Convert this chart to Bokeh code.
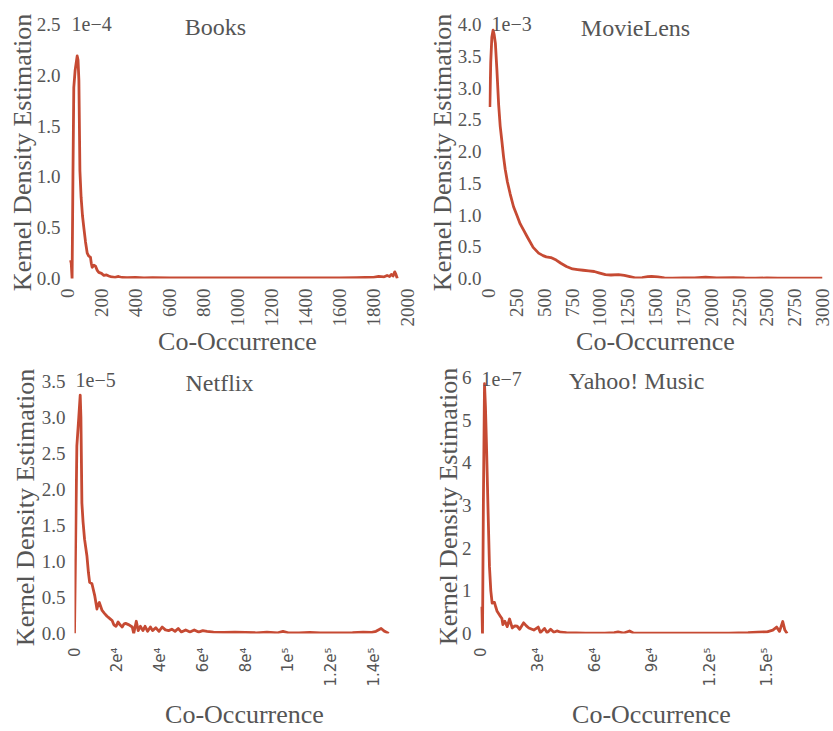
import math
from bokeh.plotting import figure
from bokeh.models import Range1d, FixedTicker, PrintfTickFormatter, Label, AllLabels
from bokeh.layouts import column, row
from bokeh.embed import file_html
from bokeh.resources import INLINE

# ---------------- data ----------------
# Books: co-occurrence count vs density (units of 1e-4)
books_x = [18, 22, 27, 32, 37, 45, 57, 62, 67, 73, 80, 88, 96, 106, 116, 125, 135, 140,
           145, 155, 165, 175, 184, 200, 214, 230, 243, 260, 280, 300, 320, 350, 400, 450,
           500, 600, 700, 800, 900, 1000, 1100, 1200, 1300, 1400, 1500, 1600, 1700, 1750,
           1800, 1830, 1860, 1880, 1895, 1905, 1915, 1925, 1932, 1940]
books_y = [0.18, 0.15, 0.0, 1.0, 1.88, 2.05, 2.19, 2.15, 1.95, 1.06, 0.80, 0.62, 0.50, 0.36,
           0.25, 0.22, 0.21, 0.15, 0.11, 0.13, 0.12, 0.08, 0.06, 0.05, 0.03, 0.035, 0.025,
           0.015, 0.012, 0.02, 0.01, 0.008, 0.01, 0.006, 0.008, 0.005, 0.006, 0.005, 0.005,
           0.005, 0.005, 0.005, 0.005, 0.005, 0.006, 0.006, 0.008, 0.01, 0.012, 0.02, 0.015,
           0.03, 0.02, 0.04, 0.025, 0.065, 0.04, 0.0]

# MovieLens: density in units of 1e-3
movie_x = [12, 20, 30, 41, 50, 62, 75, 91, 105, 121, 135, 150, 170, 195, 225, 254, 285, 313,
           350, 401, 450, 490, 519, 560, 608, 650, 700, 755, 800, 850, 900, 950, 991, 1050,
           1100, 1168, 1220, 1270, 1316, 1380, 1430, 1464, 1520, 1580, 1650, 1750, 1850,
           1950, 2050, 2200, 2300, 2400, 2500, 2600, 2700, 2800, 2900, 3000]
movie_y = [2.70, 3.40, 3.80, 3.91, 3.85, 3.70, 3.30, 2.74, 2.40, 2.15, 1.92, 1.72, 1.52, 1.33,
           1.13, 1.0, 0.86, 0.77, 0.65, 0.49, 0.40, 0.36, 0.34, 0.33, 0.29, 0.24, 0.19, 0.15,
           0.14, 0.13, 0.12, 0.11, 0.09, 0.06, 0.055, 0.06, 0.05, 0.03, 0.01, 0.015, 0.03,
           0.035, 0.025, 0.008, 0.006, 0.008, 0.01, 0.02, 0.01, 0.015, 0.008, 0.006, 0.008,
           0.006, 0.007, 0.006, 0.006, 0.006]

# Netflix: density in units of 1e-5
netflix_x = [0, 1100, 2000, 2670, 3000, 3460, 4000, 4700, 5800, 6500, 7080, 8160, 9430,
             10500, 11000, 11600, 12900, 14000, 15200, 16000, 16800, 17600, 18400, 19400,
             20400, 21300, 22300, 23100, 23900, 25500, 27000, 27700, 28900, 29800, 30800,
             32000, 33000, 34200, 35500, 36500, 38000, 39500, 41000, 42500, 44000, 45500,
             47000, 48500, 50000, 52000, 54000, 56000, 58000, 60000, 62000, 65000, 70000,
             75000, 80000, 85000, 90000, 95000, 97500, 100000, 105000, 110000, 115000,
             120000, 125000, 130000, 135000, 139000, 141000, 143400, 145000, 147000]
netflix_y = [0.0, 2.60, 3.0, 3.31, 3.0, 1.81, 1.55, 1.31, 1.08, 0.85, 0.71, 0.69, 0.53, 0.34,
             0.40, 0.43, 0.32, 0.28, 0.24, 0.22, 0.20, 0.18, 0.12, 0.10, 0.16, 0.12, 0.09,
             0.13, 0.14, 0.12, 0.09, 0.0, 0.17, 0.04, 0.10, 0.04, 0.10, 0.03, 0.09, 0.04,
             0.08, 0.03, 0.09, 0.05, 0.04, 0.06, 0.03, 0.07, 0.02, 0.05, 0.02, 0.05, 0.02,
             0.04, 0.03, 0.02, 0.015, 0.02, 0.015, 0.01, 0.02, 0.01, 0.03, 0.01, 0.01, 0.015,
             0.01, 0.01, 0.01, 0.012, 0.02, 0.015, 0.03, 0.07, 0.03, 0.0]

# Yahoo! Music: density in units of 1e-7
yahoo_x = [520, 1050, 1500, 2100, 2600, 3130, 4000, 4700, 5400, 6100, 7300, 8000, 8700,
           10450, 11200, 11700, 12700, 14000, 15200, 16600, 18000, 19200, 20500, 22600,
           24000, 25300, 27900, 30200, 31400, 33500, 34900, 36700, 38400, 40000, 42000,
           45000, 50000, 55000, 60000, 65000, 70000, 72000, 75000, 78000, 80000, 85000,
           90000, 100000, 110000, 120000, 130000, 140000, 145000, 150000, 153000, 155000,
           156500, 158200, 159300, 160500]
yahoo_y = [0.63, 0.0, 3.0, 5.85, 5.3, 4.42, 2.8, 1.56, 1.0, 0.71, 0.73, 0.62, 0.52, 0.40,
           0.35, 0.21, 0.29, 0.16, 0.34, 0.13, 0.18, 0.17, 0.10, 0.25, 0.18, 0.13, 0.08,
           0.15, 0.02, 0.12, 0.02, 0.10, 0.03, 0.06, 0.03, 0.02, 0.015, 0.01, 0.01, 0.01,
           0.02, 0.04, 0.01, 0.06, 0.01, 0.01, 0.01, 0.01, 0.01, 0.01, 0.01, 0.02, 0.03,
           0.04, 0.08, 0.15, 0.05, 0.28, 0.08, 0.0]

titles = ["Books", "MovieLens", "Netflix", "Yahoo! Music"]
exponents = ["1e\u22124", "1e\u22123", "1e\u22125", "1e\u22127"]
ylabel_text = "Kernel Density Estimation"
xlabel_text = "Co-Occurrence"

books_xticks = [0, 200, 400, 600, 800, 1000, 1200, 1400, 1600, 1800, 2000]
movie_xticks = [0, 250, 500, 750, 1000, 1250, 1500, 1750, 2000, 2250, 2500, 2750, 3000]
netflix_xticks = [0, 20000, 40000, 60000, 80000, 100000, 120000, 140000]
netflix_xlabels = ["0", "2e\u2074", "4e\u2074", "6e\u2074", "8e\u2074", "1e\u2075",
                   "1.2e\u2075", "1.4e\u2075"]
yahoo_xticks = [0, 30000, 60000, 90000, 120000, 150000]
yahoo_xlabels = ["0", "3e\u2074", "6e\u2074", "9e\u2074", "1.2e\u2075", "1.5e\u2075"]

books_yticks = [0, 0.5, 1.0, 1.5, 2.0, 2.5]
movie_yticks = [0, 0.5, 1.0, 1.5, 2.0, 2.5, 3.0, 3.5, 4.0]
netflix_yticks = [0, 0.5, 1.0, 1.5, 2.0, 2.5, 3.0, 3.5]
yahoo_yticks = [0, 1, 2, 3, 4, 5, 6]

LINE = "#c64a33"
TXT = "#555555"
SERIF = "Liberation Serif"


def make(xs, ys, xmax, xticks, yticks, yfmt, W, H, bl, br, bt, bb, tick_top_px,
         title, title_dx, title_dy, expo, expo_dx, expo_dy, ylab_x, ylab_y,
         xlabels=None, x_standoff=4, y_standoff=4, xlab_standoff=5):
    # the frame reaches a little above the top tick so that title / exponent fit inside it
    ytop = yticks[-1]
    frame_h = H - bt - bb
    yend = ytop * frame_h / (frame_h - tick_top_px)
    p = figure(width=W, height=H, x_range=Range1d(0, xmax), y_range=Range1d(0, yend),
               output_backend="svg", toolbar_location=None, title=None,
               min_border_left=bl, min_border_right=br, min_border_top=bt,
               min_border_bottom=bb)
    p.outline_line_color = None
    p.xgrid.visible = False
    p.ygrid.visible = False
    p.background_fill_color = "white"
    p.border_fill_color = "white"

    p.line(xs, ys, line_color=LINE, line_width=2.8, line_join="round")

    xa = p.xaxis[0]
    xa.ticker = FixedTicker(ticks=xticks)
    xa.major_label_orientation = math.pi / 2
    xa.major_label_policy = AllLabels()
    xa.axis_line_color = None
    xa.major_tick_line_color = None
    xa.minor_tick_line_color = None
    xa.major_label_standoff = x_standoff
    xa.major_label_text_color = TXT
    if xlabels is not None:
        xa.major_label_overrides = {t: l for t, l in zip(xticks, xlabels)}
        xa.major_label_text_font = "DejaVu Sans"
        xa.major_label_text_font_size = "15px"
    else:
        xa.major_label_text_font = SERIF
        xa.major_label_text_font_size = "19px"
    xa.axis_label = xlabel_text
    xa.axis_label_text_font = SERIF
    xa.axis_label_text_font_style = "normal"
    xa.axis_label_text_font_size = "26px"
    xa.axis_label_text_color = TXT
    xa.axis_label_standoff = xlab_standoff

    ya = p.yaxis[0]
    ya.ticker = FixedTicker(ticks=yticks)
    ya.formatter = PrintfTickFormatter(format=yfmt)
    ya.major_label_policy = AllLabels()
    ya.axis_line_color = None
    ya.major_tick_line_color = None
    ya.minor_tick_line_color = None
    ya.major_label_standoff = y_standoff
    ya.major_label_text_font = SERIF
    ya.major_label_text_font_size = "19px"
    ya.major_label_text_color = TXT

    # y-axis title as a rotated label in the left panel
    p.add_layout(Label(x=ylab_x, y=ylab_y, x_units="screen", y_units="screen",
                       angle=math.pi / 2, text=ylabel_text, text_align="center",
                       text_baseline="middle", text_font=SERIF,
                       text_font_size="26px", text_color=TXT), "left")

    p.add_layout(Label(x=0, y=ytop, x_offset=title_dx, y_offset=title_dy, text=title,
                       text_align="center", text_baseline="alphabetic",
                       text_font=SERIF, text_font_size="24px", text_color=TXT))
    p.add_layout(Label(x=0, y=ytop, x_offset=expo_dx, y_offset=expo_dy, text=expo,
                       text_align="left", text_baseline="alphabetic",
                       text_font=SERIF, text_font_size="20px", text_color=TXT))
    return p


p1 = make(books_x, books_y, 2000, books_xticks, books_yticks, "%.1f",
          420, 360, 67, 13, 5, 82, 19, titles[0], 148, -2, exponents[0], 4, 1, 18, 126,
          y_standoff=1, xlab_standoff=-3)
p2 = make(movie_x, movie_y, 3000, movie_xticks, movie_yticks, "%.1f",
          413, 360, 68, 11, 5, 82, 19, titles[1], 147, -3, exponents[1], 3, 1, 17, 126,
          y_standoff=1, xlab_standoff=-3)
p3 = make(netflix_x, netflix_y, 159000, netflix_xticks, netflix_yticks, "%.1f",
          420, 371, 74, 6, 5, 96, 16, titles[2], 145, -2, exponents[2], 1, 1, 16, 126,
          xlabels=netflix_xlabels, x_standoff=8, y_standoff=3, xlab_standoff=10)
p4 = make(yahoo_x, yahoo_y, 179000, yahoo_xticks, yahoo_yticks, "%d",
          413, 371, 60, 11, 3, 97, 12, titles[3], 156, -4, exponents[3], 1, -2, 19, 127,
          xlabels=yahoo_xlabels, x_standoff=8, y_standoff=3, xlab_standoff=10)

layout = column(row(p1, p2), row(p3, p4))
open("out.html", "w").write(file_html(layout, INLINE))
